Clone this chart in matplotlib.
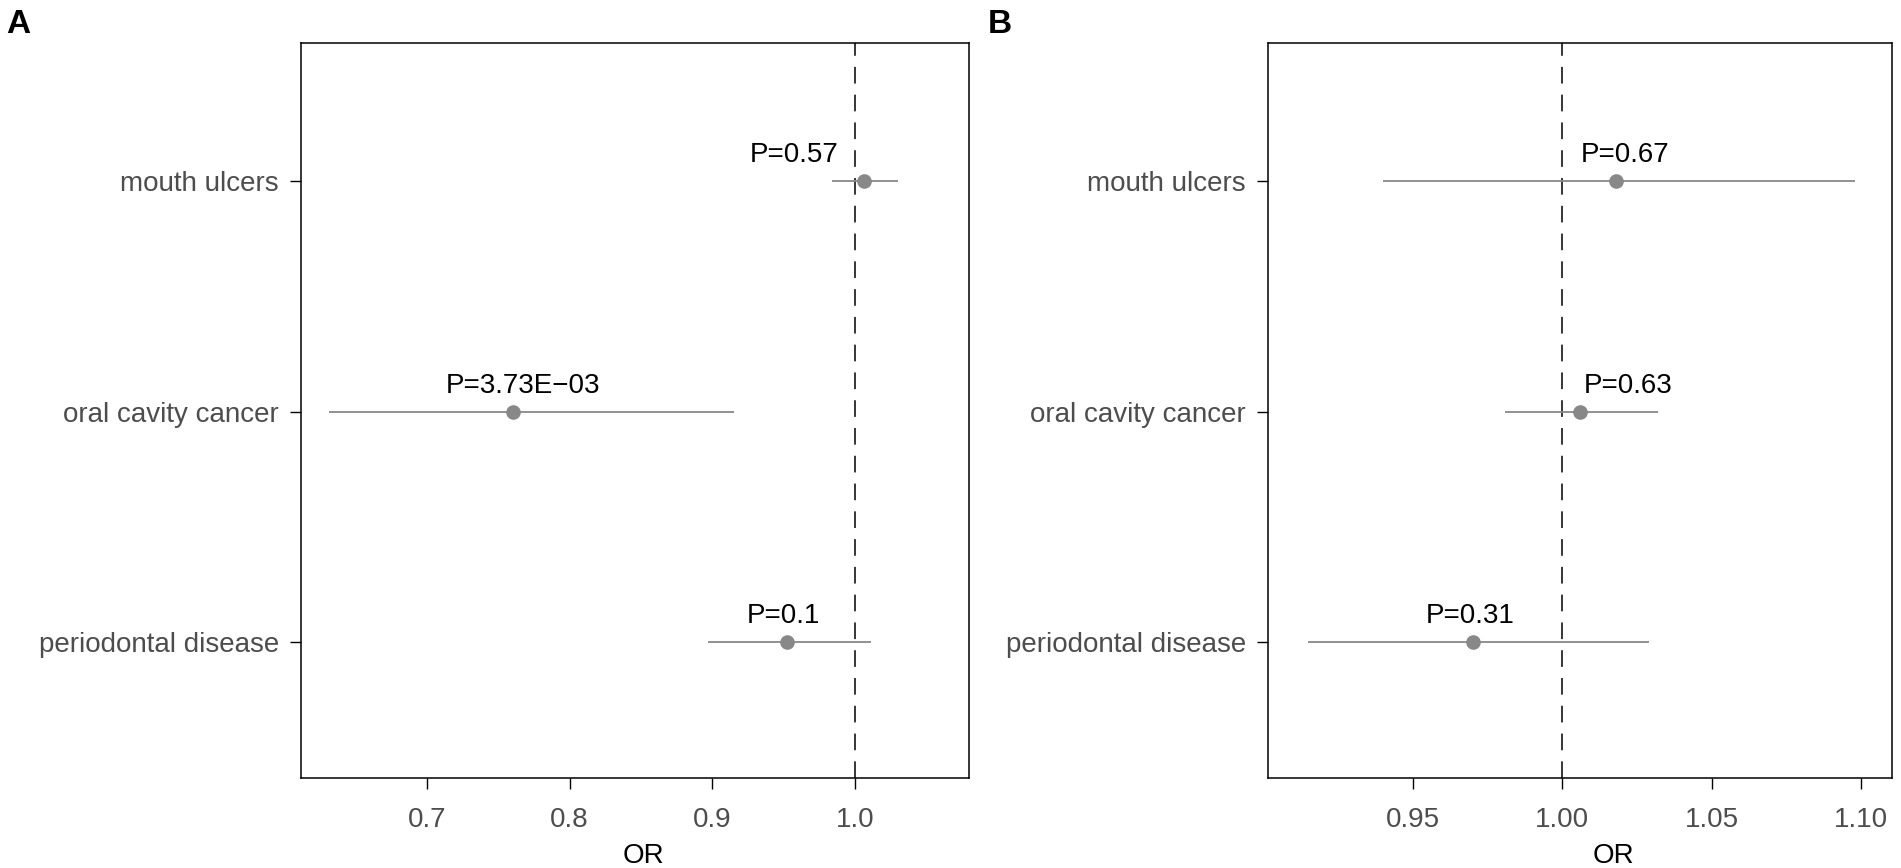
import numpy as np
import matplotlib
matplotlib.use('Agg')
import matplotlib.pyplot as plt

plt.rcParams['font.family'] = ['Liberation Sans', 'DejaVu Sans']
plt.rcParams['lines.scale_dashes'] = False

# dados
categorias = ['mouth ulcers', 'oral cavity cancer', 'periodontal disease']

or_a = [1.006, 0.760, 0.952]
inf_a = [0.984, 0.631, 0.897]
sup_a = [1.030, 0.915, 1.011]
p_a = ['P=0.57', 'P=3.73E\u221203', 'P=0.1']

or_b = [1.018, 1.006, 0.970]
inf_b = [0.940, 0.981, 0.915]
sup_b = [1.098, 1.032, 1.029]
p_b = ['P=0.67', 'P=0.63', 'P=0.31']

ticks_a = [0.7, 0.8, 0.9, 1.0]
ticks_b = [0.95, 1.00, 1.05, 1.10]

CINZA = '#888888'
CINZA_TXT = '#4d4d4d'
FS = 20


def painel(ax, ors, inf, sup, pvals, ticks, fmt, xlim, dx_txt, xlab_x, letra):
    y = np.arange(len(ors), 0, -1)
    ax.hlines(y, inf, sup, color=CINZA, linewidth=1.3, zorder=2)
    ax.plot(ors, y, 'o', color=CINZA, markersize=9.5, zorder=3)
    ax.axvline(1.0, color='black', linewidth=1.1, dashes=(12, 8), zorder=1)
    for xi, yi, txt, dx in zip(ors, y, pvals, dx_txt):
        ax.annotate(txt, (xi, yi), xytext=(dx, 19), textcoords='offset pixels',
                    ha='center', va='baseline', fontsize=FS, color='black')
    ax.set_xlim(*xlim)
    ax.set_ylim(0.41, 3.6)
    ax.set_yticks(y)
    ax.set_yticklabels(categorias)
    ax.set_xticks(ticks)
    ax.set_xticklabels([fmt.format(t) for t in ticks])
    ax.tick_params(axis='both', length=8, width=1.0, labelsize=FS,
                   labelcolor=CINZA_TXT, color='black')
    ax.tick_params(axis='y', pad=8)
    ax.tick_params(axis='x', pad=13)
    for s in ax.spines.values():
        s.set_linewidth(1.1)
    ax.set_xlabel('OR', fontsize=FS, color='black')
    ax.xaxis.set_label_coords(xlab_x, -0.088)
    ax.xaxis.label.set_va('top')
    ax.figure.text(letra[0], letra[1], letra[2], fontsize=24,
                   fontweight='bold', va='top', ha='left')


fig = plt.figure(figsize=(19.01, 8.68), dpi=100)
ax_a = fig.add_axes([301 / 1901, 1 - 778 / 868, 668 / 1901, 735 / 868])
ax_b = fig.add_axes([1268 / 1901, 1 - 778 / 868, 624 / 1901, 735 / 868])

painel(ax_a, or_a, inf_a, sup_a, p_a, ticks_a, '{:.1f}', (0.6117, 1.0799),
       [-69, 10, -3], 0.513, (6 / 1901, 1 - 9 / 868, 'A'))
painel(ax_b, or_b, inf_b, sup_b, p_b, ticks_b, '{:.2f}', (0.9015, 1.1104),
       [9, 48, -2], 0.553, (988 / 1901, 1 - 9 / 868, 'B'))

fig.savefig('out.png', dpi=100)
